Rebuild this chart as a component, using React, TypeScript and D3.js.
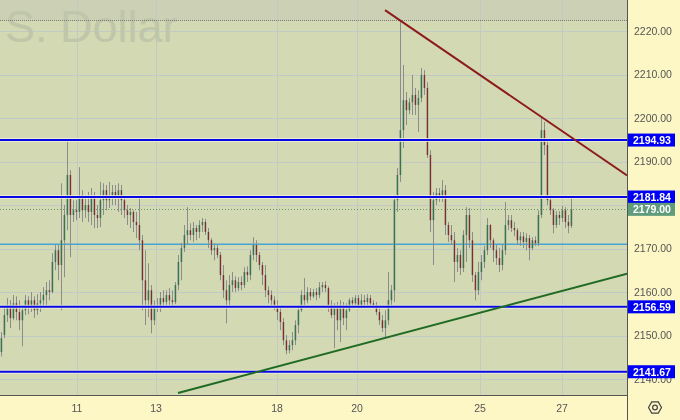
import React from 'react';
import * as d3 from 'd3';

// [open, high, low, close]
const CANDLES: [number, number, number, number][] = [
  [2146.2, 2150.8, 2145.2, 2149.4], [2150.1, 2157.0, 2149.4, 2154.7], [2154.7, 2158.6, 2153.1, 2157.0],
  [2157.0, 2158.1, 2151.7, 2154.0], [2154.0, 2159.3, 2153.5, 2157.4], [2157.4, 2159.0, 2153.5, 2155.4],
  [2155.4, 2158.1, 2151.2, 2153.5], [2153.5, 2157.0, 2147.5, 2155.8], [2155.8, 2159.3, 2154.7, 2158.1],
  [2158.1, 2159.0, 2154.9, 2156.3], [2156.3, 2160.0, 2155.4, 2158.1], [2158.1, 2159.0, 2154.0, 2155.8],
  [2155.8, 2159.5, 2154.7, 2157.4], [2157.4, 2160.0, 2155.4, 2158.1], [2158.1, 2161.1, 2156.3, 2159.3],
  [2159.3, 2162.3, 2157.0, 2160.4], [2160.4, 2162.7, 2158.1, 2160.0], [2160.0, 2168.9, 2159.7, 2166.9],
  [2166.9, 2170.8, 2165.0, 2169.6], [2169.6, 2170.8, 2162.7, 2166.2], [2166.2, 2185.0, 2155.8, 2171.9],
  [2171.9, 2180.0, 2163.4, 2177.7], [2177.7, 2194.9, 2174.2, 2186.9], [2186.9, 2188.0, 2168.0, 2177.7],
  [2177.7, 2181.1, 2176.1, 2178.8], [2178.8, 2181.1, 2176.5, 2178.4], [2178.4, 2188.7, 2177.0, 2182.3],
  [2182.3, 2183.4, 2176.1, 2178.8], [2178.8, 2182.3, 2177.0, 2180.0], [2180.0, 2183.0, 2176.1, 2178.4],
  [2178.4, 2183.9, 2175.4, 2181.6], [2181.6, 2183.0, 2174.7, 2177.7], [2177.7, 2180.0, 2174.7, 2177.0],
  [2177.0, 2185.3, 2174.9, 2181.1], [2181.1, 2185.0, 2177.7, 2183.4], [2183.4, 2184.6, 2178.8, 2181.1],
  [2181.1, 2185.3, 2179.3, 2182.3], [2182.3, 2184.6, 2180.0, 2183.0], [2183.0, 2184.6, 2180.0, 2181.6],
  [2181.6, 2185.0, 2178.4, 2183.4], [2183.4, 2184.6, 2177.7, 2181.1], [2181.1, 2182.3, 2177.0, 2178.8],
  [2178.8, 2180.0, 2175.4, 2177.7], [2177.7, 2179.3, 2174.7, 2178.4], [2178.4, 2178.8, 2173.8, 2176.1],
  [2176.1, 2178.4, 2172.4, 2175.4], [2175.4, 2181.8, 2169.6, 2171.9], [2171.9, 2173.1, 2155.8, 2162.7],
  [2162.7, 2169.6, 2152.4, 2158.1], [2158.1, 2166.6, 2154.2, 2160.4], [2160.4, 2161.6, 2150.5, 2153.5],
  [2153.5, 2158.1, 2152.4, 2157.0], [2157.0, 2158.6, 2155.4, 2156.3], [2156.3, 2160.0, 2155.4, 2158.6],
  [2158.6, 2160.4, 2156.3, 2157.7], [2157.7, 2160.4, 2157.0, 2159.3], [2159.3, 2160.9, 2157.0, 2158.1],
  [2158.1, 2160.4, 2156.8, 2157.7], [2157.7, 2162.3, 2157.2, 2161.6], [2161.6, 2168.5, 2160.4, 2166.9],
  [2166.9, 2171.2, 2162.7, 2170.1], [2170.1, 2175.4, 2169.2, 2173.1], [2173.1, 2179.5, 2170.8, 2174.2],
  [2174.2, 2175.8, 2171.9, 2173.1], [2173.1, 2176.1, 2171.5, 2174.7], [2174.7, 2175.4, 2171.9, 2173.8],
  [2173.8, 2176.5, 2172.4, 2175.4], [2175.4, 2177.0, 2173.8, 2176.1], [2176.1, 2176.8, 2173.1, 2173.8],
  [2173.8, 2174.7, 2170.1, 2171.9], [2171.9, 2172.4, 2168.5, 2169.6], [2169.6, 2171.2, 2167.3, 2170.1],
  [2170.1, 2170.8, 2167.8, 2168.5], [2168.5, 2169.2, 2162.7, 2163.9], [2163.9, 2166.2, 2158.6, 2160.4],
  [2160.4, 2162.7, 2152.8, 2158.1], [2158.1, 2163.9, 2157.0, 2161.6], [2161.6, 2164.6, 2160.0, 2162.7],
  [2162.7, 2163.6, 2160.0, 2160.9], [2160.9, 2163.4, 2160.2, 2162.3], [2162.3, 2163.6, 2160.4, 2161.6],
  [2161.6, 2165.7, 2160.9, 2164.6], [2164.6, 2165.9, 2162.3, 2163.9], [2163.9, 2169.6, 2162.7, 2168.5],
  [2168.5, 2172.6, 2167.3, 2170.8], [2170.8, 2171.9, 2166.9, 2168.5], [2168.5, 2169.2, 2165.0, 2166.2],
  [2166.2, 2166.9, 2161.6, 2163.9], [2163.9, 2166.2, 2158.8, 2160.4], [2160.4, 2161.3, 2157.4, 2159.3],
  [2159.3, 2160.4, 2157.0, 2158.1], [2158.1, 2159.0, 2155.8, 2157.0], [2157.0, 2158.1, 2153.5, 2155.4],
  [2155.4, 2156.5, 2151.2, 2153.1], [2153.1, 2154.0, 2147.8, 2148.9], [2148.9, 2150.1, 2145.7, 2146.6],
  [2146.6, 2148.9, 2145.9, 2147.8], [2147.8, 2150.8, 2146.6, 2148.9], [2148.9, 2153.5, 2147.8, 2152.4],
  [2152.4, 2157.0, 2150.5, 2155.8], [2155.8, 2160.4, 2155.4, 2159.3], [2159.3, 2163.2, 2157.0, 2158.1],
  [2158.1, 2161.1, 2157.4, 2160.0], [2160.0, 2160.9, 2158.1, 2159.0], [2159.0, 2160.7, 2158.6, 2160.0],
  [2160.0, 2160.9, 2158.1, 2159.3], [2159.3, 2162.3, 2158.6, 2161.1], [2161.1, 2162.3, 2160.0, 2161.6],
  [2161.6, 2162.5, 2160.0, 2160.9], [2160.9, 2161.3, 2155.4, 2157.0], [2157.0, 2158.1, 2154.0, 2154.7],
  [2154.7, 2157.4, 2147.1, 2156.3], [2156.3, 2157.7, 2151.2, 2153.5], [2153.5, 2158.1, 2148.5, 2157.0],
  [2157.0, 2157.7, 2152.4, 2154.0], [2154.0, 2157.4, 2151.2, 2155.8], [2155.8, 2158.6, 2155.4, 2158.1],
  [2158.1, 2158.8, 2156.5, 2157.4], [2157.4, 2159.3, 2156.8, 2158.6], [2158.6, 2159.3, 2156.3, 2157.0],
  [2157.0, 2159.5, 2156.3, 2158.1], [2158.1, 2159.3, 2156.5, 2157.7], [2157.7, 2159.5, 2157.0, 2158.6],
  [2158.6, 2159.3, 2156.5, 2157.4], [2157.4, 2158.1, 2156.3, 2157.0], [2157.0, 2157.7, 2154.7, 2155.4],
  [2155.4, 2156.3, 2152.4, 2153.5], [2153.5, 2154.7, 2150.8, 2151.7], [2151.7, 2155.8, 2149.6, 2153.5],
  [2153.5, 2164.6, 2152.4, 2158.1], [2158.1, 2161.6, 2157.0, 2160.4], [2160.4, 2182.3, 2157.7, 2181.1],
  [2181.1, 2188.5, 2178.4, 2186.9], [2186.9, 2222.5, 2185.3, 2197.2], [2197.2, 2212.2, 2193.1, 2204.1],
  [2204.1, 2206.0, 2198.4, 2201.8], [2201.8, 2204.6, 2200.9, 2203.6], [2203.6, 2209.9, 2200.7, 2205.3],
  [2205.3, 2206.9, 2200.7, 2203.0], [2203.0, 2206.4, 2196.8, 2204.6], [2204.6, 2211.5, 2203.6, 2209.9],
  [2209.9, 2211.0, 2205.3, 2206.9], [2206.9, 2208.2, 2190.8, 2191.5], [2191.5, 2192.6, 2173.8, 2176.5],
  [2176.5, 2183.0, 2166.2, 2181.1], [2181.1, 2183.9, 2180.0, 2182.7], [2182.7, 2183.9, 2180.7, 2181.6],
  [2181.6, 2185.7, 2180.7, 2183.4], [2183.4, 2184.6, 2173.1, 2175.4], [2175.4, 2176.1, 2171.5, 2173.1],
  [2173.1, 2175.4, 2170.8, 2171.9], [2171.9, 2173.8, 2162.3, 2166.9], [2166.9, 2170.1, 2164.6, 2168.5],
  [2168.5, 2169.6, 2163.9, 2165.5], [2165.5, 2174.2, 2164.6, 2173.1], [2173.1, 2179.5, 2166.9, 2177.7],
  [2177.7, 2179.3, 2170.1, 2171.9], [2171.9, 2173.8, 2162.3, 2163.9], [2163.9, 2164.6, 2158.1, 2160.4],
  [2160.4, 2166.9, 2159.3, 2164.6], [2164.6, 2168.5, 2162.7, 2166.9], [2166.9, 2170.6, 2165.5, 2169.6],
  [2169.6, 2177.0, 2168.5, 2175.4], [2175.4, 2175.6, 2170.1, 2171.9], [2171.9, 2172.4, 2166.9, 2169.6],
  [2169.6, 2170.8, 2166.2, 2167.8], [2167.8, 2170.1, 2164.6, 2166.2], [2166.2, 2170.8, 2165.0, 2169.6],
  [2169.6, 2180.7, 2168.5, 2175.4], [2175.4, 2177.7, 2174.2, 2176.5], [2176.5, 2177.7, 2173.8, 2174.7],
  [2174.7, 2176.1, 2172.8, 2174.2], [2174.2, 2174.7, 2170.8, 2171.9], [2171.9, 2173.8, 2170.6, 2172.8],
  [2172.8, 2173.8, 2170.1, 2171.5], [2171.5, 2173.5, 2169.6, 2172.4], [2172.4, 2173.1, 2167.3, 2170.1],
  [2170.1, 2172.6, 2169.6, 2171.9], [2171.9, 2172.8, 2170.6, 2171.2], [2171.2, 2178.8, 2170.6, 2177.7],
  [2177.7, 2200.0, 2177.0, 2197.2], [2197.2, 2199.1, 2191.5, 2193.8], [2193.8, 2194.9, 2180.0, 2181.1],
  [2181.1, 2182.3, 2177.7, 2178.8], [2178.8, 2179.3, 2173.5, 2175.4], [2175.4, 2178.6, 2174.7, 2177.7],
  [2177.7, 2178.6, 2175.4, 2177.0], [2177.0, 2179.8, 2176.1, 2178.8], [2178.8, 2179.5, 2174.7, 2176.1],
  [2176.1, 2177.7, 2173.5, 2175.2], [2175.2, 2181.8, 2174.7, 2179.0],
];

const PRICE_TICKS = [2140, 2150, 2160, 2170, 2180, 2190, 2200, 2210, 2220];
const PRICE_LABELS = [2140, 2150, 2160, 2170, 2190, 2200, 2210, 2220];
const DAY_LABELS = ['11', '13', '18', '20', '25', '27'];
const DAY_POS = [25.3, 51.7, 92, 118.7, 159.7, 187];
const BLUE_LEVELS = [2194.93, 2181.84, 2156.59, 2141.67];
const CYAN_LEVEL = 2171.0;
const LAST_PRICE = 2179.0;
const HIGH_MARK = 2222.5;
const RESIST_LINE: [number, number][] = [[128, 2224.8], [208.7, 2186.8]];
const SUPPORT_LINE: [number, number][] = [[59, 2136.8], [208.7, 2164.2]];

const W = 680, H = 420, PR = 627, PB = 395;

export default function App() {
  const n = CANDLES.length;
  const x = d3.scaleLinear().domain([0, n - 1]).range([1, 571]);
  const y = d3.scaleLinear().domain([2140, 2220]).range([379, 31]);
  const line = d3.line<[number, number]>().x(d => x(d[0])).y(d => y(d[1]));
  const font = "'Liberation Sans', Arial, sans-serif";
  const yHigh = y(HIGH_MARK);

  return (
    <svg width={W} height={H} style={{ position: 'fixed', left: 0, top: 0 }} fontFamily={font}>
      <defs>
        <clipPath id="plot"><rect x={0} y={0} width={PR} height={PB} /></clipPath>
      </defs>
      <rect x={0} y={0} width={PR} height={PB} fill="#d3d9b2" />
      <rect x={0} y={0} width={PR} height={yHigh} fill="#ccd1b6" />
      <g clipPath="url(#plot)">
        {PRICE_TICKS.map(t => (
          <line key={t} x1={0} x2={PR} y1={Math.round(y(t)) + 0.5} y2={Math.round(y(t)) + 0.5} stroke="#c2cac6" strokeWidth={1} />
        ))}
        {DAY_POS.map(d => (
          <line key={d} x1={Math.round(x(d)) + 0.5} x2={Math.round(x(d)) + 0.5} y1={0} y2={PB} stroke="#c2cac6" strokeWidth={1} />
        ))}
        <text x={5} y={41.5} fontSize={45} fill="#c0c6aa" fontFamily={font}>S. Dollar</text>
        <line x1={0} x2={PR} y1={Math.round(yHigh) + 0.5} y2={Math.round(yHigh) + 0.5} stroke="#7a7a7a" strokeDasharray="1,1" />
        <line x1={0} x2={PR} y1={y(CYAN_LEVEL)} y2={y(CYAN_LEVEL)} stroke="#47a3d3" strokeWidth={1.5} />
        <line x1={0} x2={PR} y1={Math.round(y(LAST_PRICE)) + 0.5} y2={Math.round(y(LAST_PRICE)) + 0.5} stroke="#5e9a72" strokeDasharray="1,2" />
        {CANDLES.map((c, i) => {
          const [o, h, l, cl] = c;
          const cx = Math.round(x(i)) + 0.5;
          const up = cl >= o;
          const top = y(Math.max(o, cl));
          const bot = y(Math.min(o, cl));
          return (
            <g key={i}>
              <line x1={cx} x2={cx} y1={y(h)} y2={y(l)} stroke="#8c8c8c" strokeWidth={1} />
              <rect x={cx - 1.5} y={top} width={2.5} height={Math.max(1, bot - top)} fill="#9a9c94" opacity={0.75} />
              <line x1={cx} x2={cx} y1={top} y2={top + Math.max(1, bot - top)} stroke={up ? '#2e7a48' : '#8a2a22'} strokeWidth={1} />
            </g>
          );
        })}
        {BLUE_LEVELS.map(v => (
          <g key={v}>
            <line x1={0} x2={PR} y1={y(v)} y2={y(v)} stroke="#eef1d8" strokeWidth={4} opacity={0.8} />
            <line x1={0} x2={PR} y1={y(v)} y2={y(v)} stroke="#0808e6" strokeWidth={2} />
          </g>
        ))}
        <path d={line(RESIST_LINE) || ''} stroke="#8c1c1c" strokeWidth={2} fill="none" />
        <path d={line(SUPPORT_LINE) || ''} stroke="#1f6b24" strokeWidth={2} fill="none" />
      </g>
      <rect x={PR} y={0} width={W - PR} height={H} fill="#fdf7c6" />
      <rect x={0} y={PB} width={PR} height={H - PB} fill="#fdf7c6" />
      <line x1={PR + 0.5} x2={PR + 0.5} y1={0} y2={H} stroke="#555" strokeWidth={1} />
      <line x1={0} x2={PR} y1={PB + 0.5} y2={PB + 0.5} stroke="#555" strokeWidth={1} />
      {PRICE_LABELS.map(t => (
        <text key={t} x={634} y={y(t)} dy="0.35em" fontSize={10.5} fill="#555">{t.toFixed(2)}</text>
      ))}
      {BLUE_LEVELS.map(v => (
        <g key={v}>
          <rect x={628} y={y(v) - 6.5} width={47} height={13} fill="#0000f5" />
          <text x={633} y={y(v)} dy="0.36em" fontSize={10.5} fontWeight="bold" fill="#ffffff">{v.toFixed(2)}</text>
        </g>
      ))}
      <rect x={628} y={y(LAST_PRICE) - 6.5} width={47} height={13} fill="#5e9c7b" />
      <text x={633} y={y(LAST_PRICE)} dy="0.36em" fontSize={10.5} fontWeight="bold" fill="#ffffff">{LAST_PRICE.toFixed(2)}</text>
      {DAY_LABELS.map((d, i) => (
        <text key={d} x={x(DAY_POS[i])} y={408} dy="0.35em" fontSize={10.5} fill="#555" textAnchor="middle">{d}</text>
      ))}
      <g transform="translate(655,407.5)" fill="none" stroke="#444" strokeWidth={1.2}>
        <path d="M-6.5,0 L-3.3,-5.6 L3.3,-5.6 L6.5,0 L3.3,5.6 L-3.3,5.6 Z" />
        <circle r={2.4} />
      </g>
    </svg>
  );
}
